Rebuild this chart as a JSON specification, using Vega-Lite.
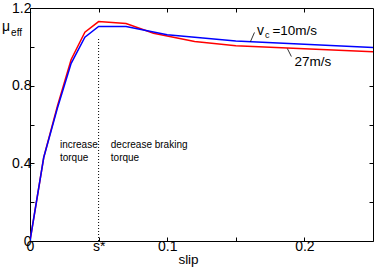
{
  "$schema": "https://vega.github.io/schema/vega-lite/v6.json",
  "width": 343,
  "height": 233,
  "autosize": {"type": "none"},
  "padding": {"left": 30, "top": 8, "right": 1, "bottom": 29},
  "background": "white",
  "config": {
    "font": "Liberation Sans",
    "view": {"stroke": "black", "strokeWidth": 1},
    "axis": {"grid": false, "domain": false, "tickColor": "black", "tickSize": -4, "labelColor": "black", "labelFontSize": 14, "labelFont": "Liberation Sans", "titleFont": "Liberation Sans", "titleColor": "black"}
  },
  "datasets": {
    "curves": [
      {"s": 0, "mu": 0, "v": "10"},
      {"s": 0.01, "mu": 0.43, "v": "10"},
      {"s": 0.02, "mu": 0.685, "v": "10"},
      {"s": 0.03, "mu": 0.915, "v": "10"},
      {"s": 0.04, "mu": 1.05, "v": "10"},
      {"s": 0.05, "mu": 1.105, "v": "10"},
      {"s": 0.07, "mu": 1.105, "v": "10"},
      {"s": 0.1, "mu": 1.062, "v": "10"},
      {"s": 0.15, "mu": 1.03, "v": "10"},
      {"s": 0.2, "mu": 1.013, "v": "10"},
      {"s": 0.25, "mu": 0.996, "v": "10"},
      {"s": 0, "mu": 0, "v": "27"},
      {"s": 0.01, "mu": 0.43, "v": "27"},
      {"s": 0.02, "mu": 0.695, "v": "27"},
      {"s": 0.03, "mu": 0.935, "v": "27"},
      {"s": 0.04, "mu": 1.075, "v": "27"},
      {"s": 0.05, "mu": 1.13, "v": "27"},
      {"s": 0.07, "mu": 1.12, "v": "27"},
      {"s": 0.09, "mu": 1.07, "v": "27"},
      {"s": 0.12, "mu": 1.027, "v": "27"},
      {"s": 0.15, "mu": 1.005, "v": "27"},
      {"s": 0.2, "mu": 0.99, "v": "27"},
      {"s": 0.25, "mu": 0.975, "v": "27"}
    ],
    "dotted": [
      {"s": 0.05, "y1": 0, "y2": 1.048}
    ],
    "leaders": [
      {"s": 0.1607, "mu": 1.027, "s2": 0.1636, "mu2": 1.074},
      {"s": 0.1876, "mu": 0.991, "s2": 0.1905, "mu2": 0.950}
    ],
    "labels": [
      {"s": 0.0218, "mu": 0.495, "t": "increase", "size": 10},
      {"s": 0.0218, "mu": 0.428, "t": "torque", "size": 10},
      {"s": 0.0589, "mu": 0.495, "t": "decrease braking", "size": 10},
      {"s": 0.0589, "mu": 0.428, "t": "torque", "size": 10},
      {"s": 0.1655, "mu": 1.084, "t": "v", "size": 14},
      {"s": 0.1713, "mu": 1.060, "t": "c", "size": 9},
      {"s": 0.1767, "mu": 1.084, "t": "=10m/s", "size": 13.5},
      {"s": 0.1927, "mu": 0.924, "t": "27m/s", "size": 13.5},
      {"s": -0.0204, "mu": 1.10, "t": "μ", "size": 14},
      {"s": -0.0138, "mu": 1.073, "t": "eff", "size": 10}
    ]
  },
  "layer": [
    {
      "data": {"name": "curves"},
      "transform": [{"filter": "datum.v == '27'"}],
      "mark": {"type": "line", "color": "#ff0000", "strokeWidth": 1.5, "clip": true},
      "encoding": {
        "x": {"field": "s", "type": "quantitative", "scale": {"domain": [0, 0.25], "nice": false, "zero": false},
          "axis": {"orient": "bottom", "values": [0, 0.05, 0.1, 0.15, 0.2, 0.25], "labelExpr": "datum.value < 0.001 ? '0' : (abs(datum.value - 0.05) < 0.001 ? 's*' : (abs(datum.value - 0.1) < 0.001 ? '0.1' : (abs(datum.value - 0.2) < 0.001 ? '0.2' : '')))", "labelPadding": 2, "labelFlush": false, "labelOverlap": false, "title": "slip", "titleFontSize": 13.5, "titleFontWeight": "normal", "titleX": 158, "titleY": 22, "titleBaseline": "alphabetic"}},
        "y": {"field": "mu", "type": "quantitative", "scale": {"domain": [0, 1.2], "nice": false},
          "axis": {"orient": "left", "values": [0, 0.2, 0.4, 0.6, 0.8, 1.0, 1.2], "labelExpr": "datum.value < 0.001 ? '0' : (abs(datum.value - 0.4) < 0.001 ? '0.4' : (abs(datum.value - 0.8) < 0.001 ? '0.8' : (abs(datum.value - 1.2) < 0.001 ? '1.2' : '')))", "labelPadding": 3, "labelFlush": false, "labelOverlap": false, "title": null}}
      }
    },
    {
      "data": {"name": "curves"},
      "transform": [{"filter": "datum.v == '10'"}],
      "mark": {"type": "line", "color": "#0000ff", "strokeWidth": 1.5, "clip": true},
      "encoding": {
        "x": {"field": "s", "type": "quantitative", "axis": {"orient": "top", "values": [0.05, 0.1, 0.15, 0.2], "labels": false, "title": null}},
        "y": {"field": "mu", "type": "quantitative", "axis": {"orient": "right", "values": [0.2, 0.4, 0.6, 0.8, 1.0], "labels": false, "title": null}}
      }
    },
    {
      "data": {"name": "dotted"},
      "mark": {"type": "rule", "color": "black", "strokeWidth": 1, "strokeDash": [1, 2]},
      "encoding": {
        "x": {"field": "s", "type": "quantitative", "axis": null},
        "y": {"field": "y1", "type": "quantitative", "axis": null},
        "y2": {"field": "y2"}
      }
    },
    {
      "data": {"name": "leaders"},
      "mark": {"type": "rule", "color": "black", "strokeWidth": 0.8},
      "encoding": {
        "x": {"field": "s", "type": "quantitative", "axis": null},
        "y": {"field": "mu", "type": "quantitative", "axis": null},
        "x2": {"field": "s2"},
        "y2": {"field": "mu2"}
      }
    },
    {
      "data": {"name": "labels"},
      "mark": {"type": "text", "align": "left", "baseline": "middle", "color": "black", "font": "Liberation Sans"},
      "encoding": {
        "x": {"field": "s", "type": "quantitative", "axis": null},
        "y": {"field": "mu", "type": "quantitative", "axis": null},
        "text": {"field": "t"},
        "size": {"field": "size", "type": "quantitative", "scale": null}
      }
    }
  ]
}
